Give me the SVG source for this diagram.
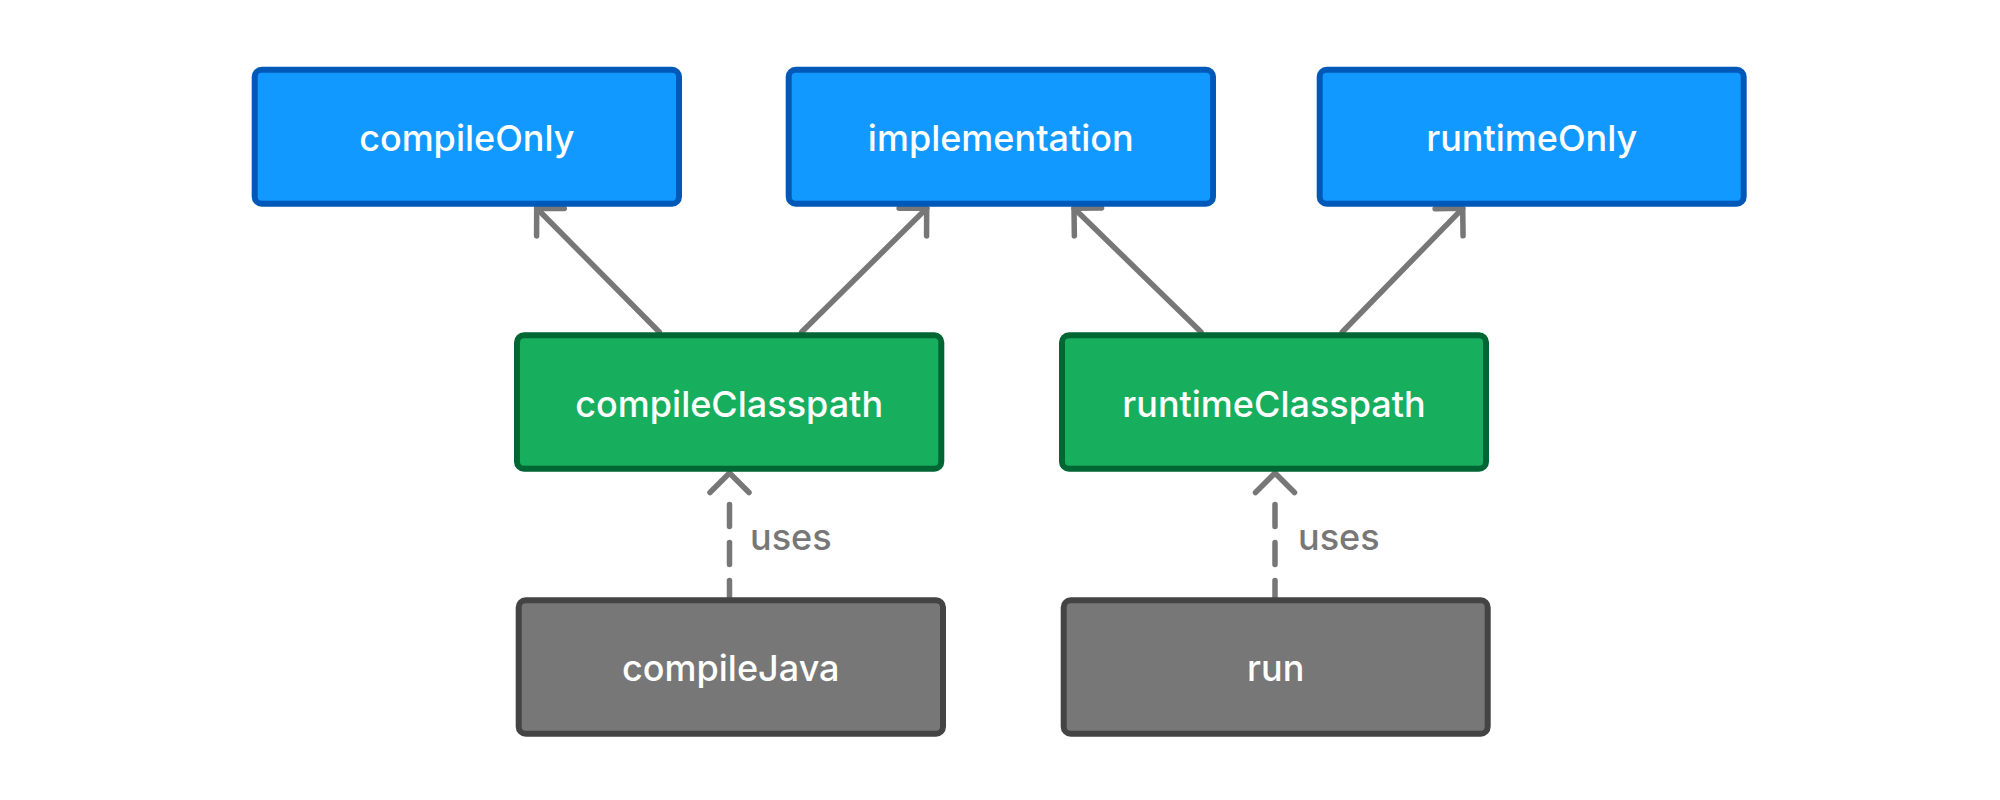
<svg xmlns="http://www.w3.org/2000/svg" width="2000" height="800" viewBox="0 0 2000 800">
  <style>
    .box { stroke-width: 6; }
    .blue { fill: #1199ff; stroke: #0059b8; }
    .green { fill: #17ae5d; stroke: #006633; }
    .gray { fill: #777777; stroke: #444444; }
    .label { font-family: Inter, "Noto Sans", "Liberation Sans", sans-serif; font-size: 36px; font-weight: 500; fill: #ffffff; text-anchor: middle; }
    .edge { fill: none; stroke: #777777; stroke-width: 5.5; stroke-linecap: round; stroke-linejoin: round; }
    .dashed { stroke-dasharray: 16.5 16 22 16 22 40; }
    .elabel { font-family: Inter, "Noto Sans", "Liberation Sans", sans-serif; font-size: 36px; font-weight: 500; fill: #777777; }
  </style>
  <defs>
    <marker id="arrow" markerUnits="userSpaceOnUse" viewBox="-30 -30 60 60" markerWidth="60" markerHeight="60" refX="0" refY="0" orient="auto" overflow="visible">
      <path d="M-19.5,-19.5 L0,0 L-19.5,19.5" fill="none" stroke="#777777" stroke-width="5.5" stroke-linecap="round" stroke-linejoin="round"/>
    </marker>
  </defs>
  <rect width="2000" height="800" fill="#ffffff"/>

  <g id="connectors">
    <path class="edge" d="M659.3,332 L536.7,208.3" marker-end="url(#arrow)"/>
    <path class="edge" d="M801.7,332 L926.7,208.3" marker-end="url(#arrow)"/>
    <path class="edge" d="M1201,332 L1074,208.3" marker-end="url(#arrow)"/>
    <path class="edge" d="M1342.3,332 L1462.7,208.3" marker-end="url(#arrow)"/>
    <path class="edge dashed" d="M729.5,597 L729.5,473" marker-end="url(#arrow)"/>
    <path class="edge dashed" d="M1275,597 L1275,473" marker-end="url(#arrow)"/>
    <text class="elabel" x="750" y="550">uses</text>
    <text class="elabel" x="1298" y="550">uses</text>
  </g>

  <g id="compileOnly">
    <rect class="box blue" x="254.7" y="69.7" width="424.3" height="134" rx="7"/>
    <text class="label" x="466.8" y="151">compileOnly</text>
  </g>
  <g id="implementation">
    <rect class="box blue" x="788.7" y="69.7" width="424.3" height="134" rx="7"/>
    <text class="label" x="1000.8" y="151">implementation</text>
  </g>
  <g id="runtimeOnly">
    <rect class="box blue" x="1319.7" y="69.7" width="424" height="134" rx="7"/>
    <text class="label" x="1531.7" y="151">runtimeOnly</text>
  </g>
  <g id="compileClasspath">
    <rect class="box green" x="517" y="335.3" width="424.3" height="133.4" rx="7"/>
    <text class="label" x="729.2" y="416.7">compileClasspath</text>
  </g>
  <g id="runtimeClasspath">
    <rect class="box green" x="1062" y="335.3" width="424" height="133.4" rx="7"/>
    <text class="label" x="1274" y="416.7">runtimeClasspath</text>
  </g>
  <g id="compileJava">
    <rect class="box gray" x="518.7" y="600.3" width="424.3" height="133.4" rx="7"/>
    <text class="label" x="730.8" y="681">compileJava</text>
  </g>
  <g id="run">
    <rect class="box gray" x="1063.7" y="600.3" width="424" height="133.4" rx="7"/>
    <text class="label" x="1275.7" y="681">run</text>
  </g>
</svg>
